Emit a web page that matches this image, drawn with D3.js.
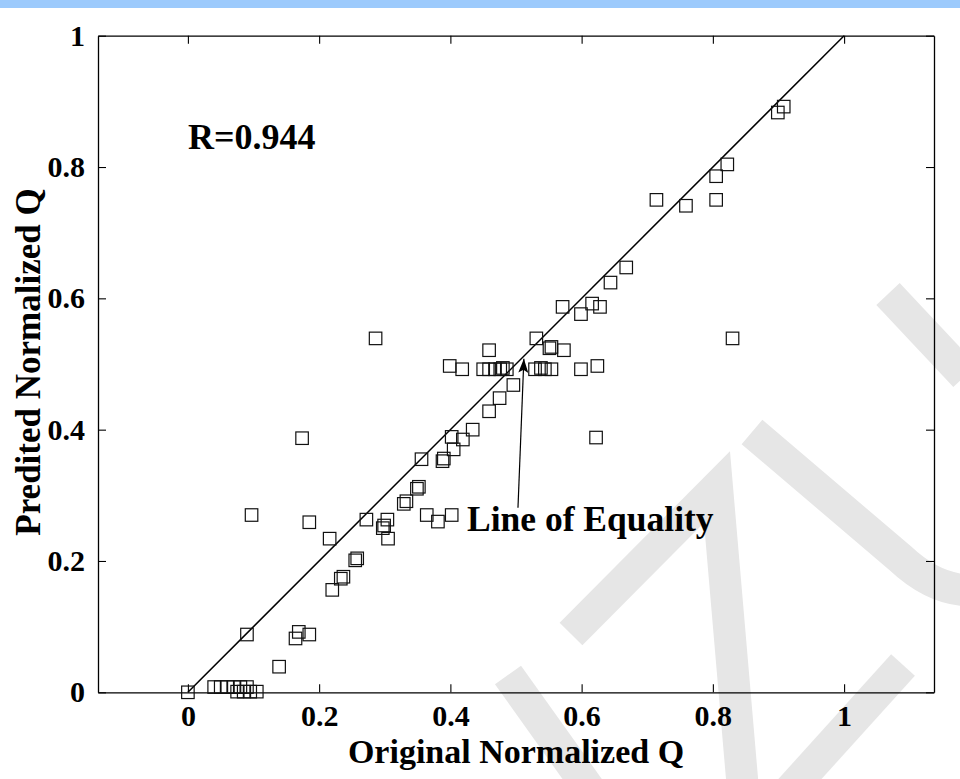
<!DOCTYPE html>
<html>
<head>
<meta charset="utf-8">
<script src="https://cdn.jsdelivr.net/npm/d3@7"></script>
<style>
  html, body { margin: 0; padding: 0; background: #fff; }
  svg { display: block; }
</style>
</head>
<body>
<div id="chart"></div>
<script>
// data
const originalQ = [
  0,
  0.04, 0.05, 0.06, 0.07, 0.08, 0.09,
  0.075, 0.085, 0.095, 0.105,
  0.090, 0.139, 0.164, 0.169, 0.185,
  0.097, 0.174, 0.185, 0.216, 0.220,
  0.233, 0.237, 0.255, 0.258, 0.272, 0.286,
  0.297, 0.299, 0.304, 0.305, 0.329, 0.333,
  0.349, 0.352, 0.356, 0.364, 0.381, 0.388, 0.390,
  0.402, 0.399, 0.402, 0.405, 0.418, 0.419, 0.434,
  0.450, 0.459, 0.468, 0.476, 0.480, 0.486,
  0.459, 0.459, 0.475, 0.496,
  0.529, 0.538, 0.544, 0.554,
  0.531, 0.551, 0.554, 0.573, 0.571, 0.599, 0.599,
  0.616, 0.628, 0.624, 0.622, 0.644, 0.668,
  0.714, 0.759, 0.805, 0.805, 0.822, 0.830, 0.899, 0.908
];
const predictedQ = [
  0,
  0.008, 0.008, 0.008, 0.008, 0.008, 0.008,
  0.001, 0.001, 0.001, 0.001,
  0.088, 0.039, 0.082, 0.092, 0.088,
  0.270, 0.387, 0.259, 0.234, 0.156,
  0.173, 0.176, 0.201, 0.204, 0.263, 0.539,
  0.250, 0.254, 0.263, 0.234, 0.287, 0.291,
  0.310, 0.313, 0.355, 0.270, 0.260, 0.352, 0.356,
  0.270, 0.497, 0.389, 0.370, 0.492, 0.385, 0.400,
  0.492, 0.492, 0.492, 0.492, 0.494, 0.492,
  0.521, 0.428, 0.448, 0.468,
  0.492, 0.494, 0.492, 0.492,
  0.539, 0.524, 0.526, 0.521, 0.587, 0.576, 0.492,
  0.592, 0.587, 0.497, 0.388, 0.624, 0.647,
  0.750, 0.741, 0.750, 0.786, 0.804, 0.539, 0.883, 0.892
];
const xTicks = [0, 0.2, 0.4, 0.6, 0.8, 1];
const xTickLabels = ["0", "0.2", "0.4", "0.6", "0.8", "1"];
const yTicks = [0, 0.2, 0.4, 0.6, 0.8, 1];
const yTickLabels = ["0", "0.2", "0.4", "0.6", "0.8", "1"];
const equalityLine = [0, 1];
const arrowTail = [0.503, 0.281];
const arrowHead = [0.512, 0.508];
const rText = "R=0.944";
const arrowText = "Line of Equality";

const width = 960, height = 779;
const font = "'Liberation Serif', 'Times New Roman', serif";

const svg = d3.select("#chart").append("svg")
    .attr("width", width)
    .attr("height", height);

svg.append("rect").attr("width", width).attr("height", height).attr("fill", "#fff");
svg.append("rect").attr("width", width).attr("height", 8).attr("fill", "#9ccafc");

// faint watermark strokes behind the plot
const marks = [
  "M571,634 L717,487 L743,790",
  "M508,675 L590,790",
  "M903,665 L790,790",
  "M752,432 L900,558 Q932,588 965,590",
  "M888,294 L965,376"
];
svg.append("g").selectAll("path").data(marks).join("path")
    .attr("d", d => d)
    .attr("fill", "none")
    .attr("stroke", "#e6e6e6")
    .attr("stroke-width", 32)
    .attr("stroke-linejoin", "miter");

const x = d3.scaleLinear().domain([-0.137, 1.137]).range([98, 934]);
const y = d3.scaleLinear().domain([0, 1]).range([692.3, 35.7]);

const axisStyle = g => {
  g.select(".domain").attr("stroke", "#000").attr("stroke-width", 1.3);
  g.selectAll(".tick line").attr("stroke", "#000").attr("stroke-width", 1.1);
  g.selectAll("text")
    .attr("fill", "#000")
    .style("font-family", font)
    .style("font-weight", "bold")
    .style("font-size", "30px");
};

svg.append("g")
    .attr("transform", `translate(0,${y(0)})`)
    .call(d3.axisBottom(x).tickValues(xTicks).tickFormat((d, i) => xTickLabels[i])
      .tickSizeInner(-8).tickSizeOuter(0).tickPadding(12))
    .call(axisStyle);
svg.append("g")
    .attr("transform", `translate(0,${y(1)})`)
    .call(d3.axisTop(x).tickValues(xTicks).tickFormat("")
      .tickSizeInner(-8).tickSizeOuter(0))
    .call(axisStyle);
svg.append("g")
    .attr("transform", `translate(${x.range()[0]},0)`)
    .call(d3.axisLeft(y).tickValues(yTicks).tickFormat((d, i) => yTickLabels[i])
      .tickSizeInner(-8).tickSizeOuter(0).tickPadding(13))
    .call(axisStyle);
svg.append("g")
    .attr("transform", `translate(${x.range()[1]},0)`)
    .call(d3.axisRight(y).tickValues(yTicks).tickFormat("")
      .tickSizeInner(-8).tickSizeOuter(0))
    .call(axisStyle);

// line of equality
svg.append("line")
    .attr("x1", x(equalityLine[0])).attr("y1", y(equalityLine[0]))
    .attr("x2", x(equalityLine[1])).attr("y2", y(equalityLine[1]))
    .attr("stroke", "#000")
    .attr("stroke-width", 1.5);

// square markers
const side = 12.5;
svg.append("g").selectAll("rect")
  .data(originalQ.map((d, i) => [d, predictedQ[i]]))
  .join("rect")
    .attr("x", d => x(d[0]) - side / 2)
    .attr("y", d => y(d[1]) - side / 2)
    .attr("width", side)
    .attr("height", side)
    .attr("fill", "none")
    .attr("stroke", "#111")
    .attr("stroke-width", 1.2);

// arrow
svg.append("defs").append("marker")
    .attr("id", "head")
    .attr("viewBox", "0 0 14 10")
    .attr("refX", 14).attr("refY", 5)
    .attr("markerWidth", 14).attr("markerHeight", 10)
    .attr("markerUnits", "userSpaceOnUse")
    .attr("orient", "auto")
  .append("path")
    .attr("d", "M0,0 L14,5 L0,10 L3,5 Z")
    .attr("fill", "#000");

svg.append("line")
    .attr("x1", x(arrowTail[0])).attr("y1", y(arrowTail[1]))
    .attr("x2", x(arrowHead[0])).attr("y2", y(arrowHead[1]))
    .attr("stroke", "#000")
    .attr("stroke-width", 1.2)
    .attr("marker-end", "url(#head)");

// labels
const textStyle = (sel, size) => sel
    .attr("fill", "#000")
    .style("font-family", font)
    .style("font-weight", "bold")
    .style("font-size", size + "px");

svg.append("text").attr("x", 188).attr("y", 149).text(rText).call(textStyle, 36);
svg.append("text").attr("x", 467).attr("y", 531).text(arrowText).call(textStyle, 35.5);

svg.append("text")
    .attr("x", (x.range()[0] + x.range()[1]) / 2)
    .attr("y", 763)
    .attr("text-anchor", "middle")
    .text("Original Normalized Q")
    .call(textStyle, 34);

svg.append("text")
    .attr("transform", `translate(40,362) rotate(-90)`)
    .attr("text-anchor", "middle")
    .text("Predited Normalized Q")
    .call(textStyle, 35);
</script>
</body>
</html>
